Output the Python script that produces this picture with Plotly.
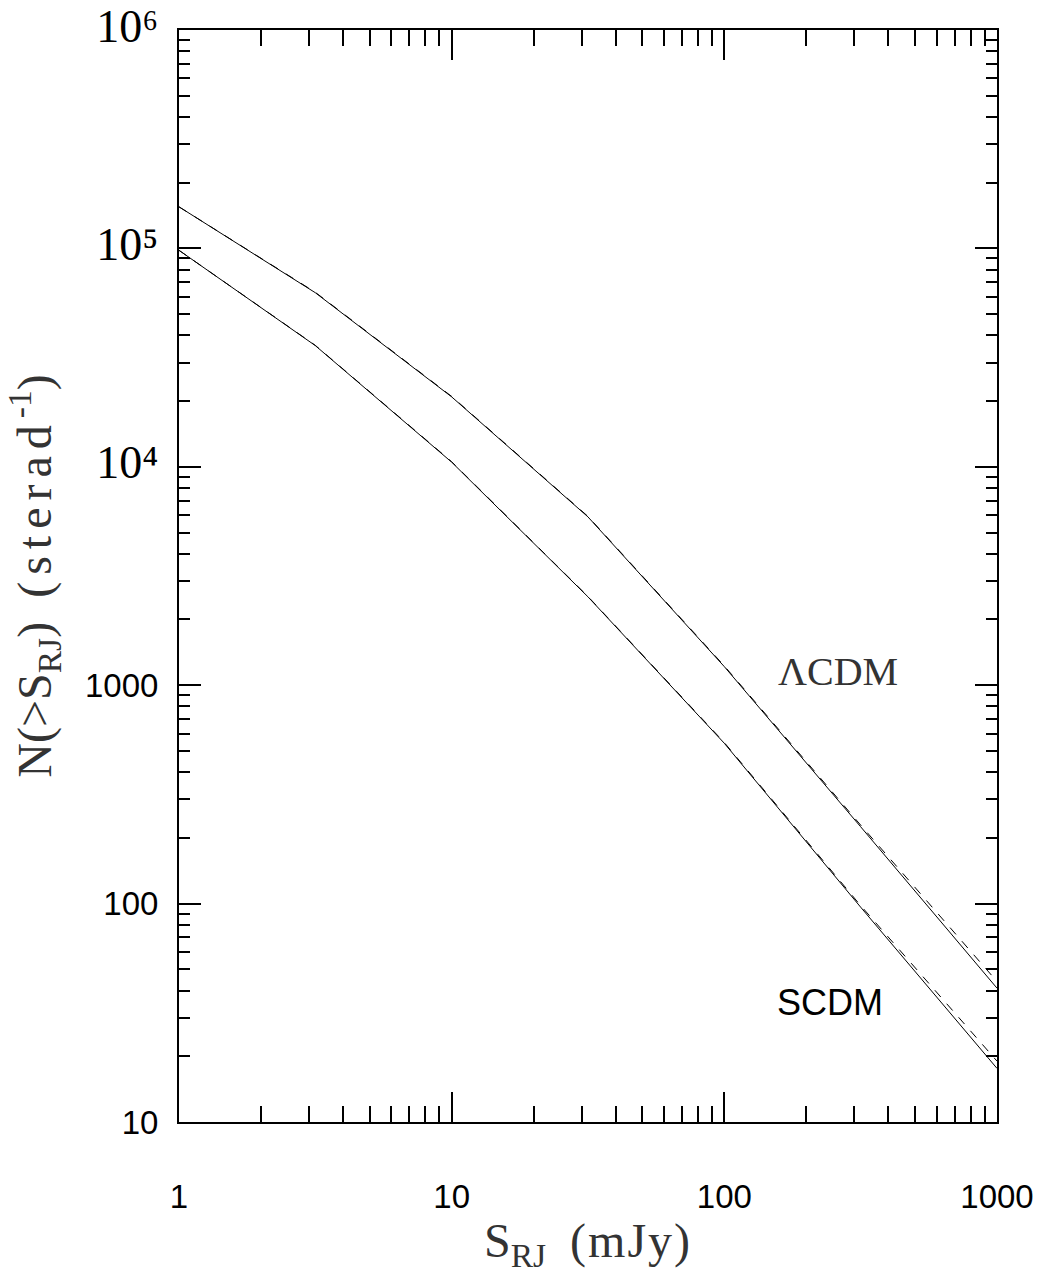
import plotly.graph_objects as go

# Data (flux in mJy, counts per steradian)
S_RJ = [1, 3.16, 10, 31.6, 100, 316, 1000]
lcdm_solid = [1.55e5, 6.27e4, 2.09e4, 5.9e3, 1216, 225, 41]
lcdm_dashed = [1.55e5, 6.3e4, 2.1e4, 5.93e3, 1225, 229, 44]
scdm_solid = [9.8e4, 3.59e4, 1.05e4, 2540, 542, 96.4, 17.6]
scdm_dashed = [9.8e4, 3.6e4, 1.055e4, 2550, 546, 98, 19]

y_tickvals = [10, 100, 1000, 1e4, 1e5, 1e6]
SERIF = "Liberation Serif"
SANS = "Liberation Sans"
SUP = {4: "⁴", 5: "⁵", 6: "⁶"}
def sci(e):
    return f"<span style='font-family:{SERIF};font-size:46px'>10{SUP[e]}</span>"
y_ticktext = ["10", "100", "1000", sci(4), sci(5), sci(6)]
x_tickvals = [1, 10, 100, 1000]
x_ticktext = ["1", "10", "100", "1000"]

minor_vals = [m * 10 ** d for d in range(0, 6) for m in range(2, 10)]

fig = go.Figure()
for y, dash in [(lcdm_solid, "solid"), (lcdm_dashed, "dash"),
                (scdm_solid, "solid"), (scdm_dashed, "dash")]:
    fig.add_trace(go.Scatter(x=S_RJ, y=y, mode="lines",
                             line=dict(color="black", width=1, dash=dash),
                             showlegend=False))

axis_common = dict(type="log", showgrid=False, zeroline=False, showline=True,
                   linecolor="black", linewidth=2, mirror="allticks",
                   ticks="inside", tickcolor="black", tickwidth=1.5,
                   ticklabeloverflow="allow")

fig.update_layout(
    width=1041, height=1274,
    margin=dict(l=179, r=44, t=30, b=152, autoexpand=False),
    paper_bgcolor="white", plot_bgcolor="white",
    xaxis=dict(**axis_common, range=[-0.00001, 3.00001], tickvals=x_tickvals, ticktext=x_ticktext,
               ticklen=30, tickfont=dict(family=SANS, size=33, color="black"),
               ticklabelstandoff=44,
               minor=dict(tickvals=[v for v in minor_vals if v < 1000], ticks="inside",
                          ticklen=16, tickcolor="black", tickwidth=1.5),
               title=dict(text="S<sub>RJ</sub>  <span style='letter-spacing:2px'>(mJy)</span>",
                          font=dict(family=SERIF, size=48, color="#333"), standoff=18)),
    yaxis=dict(**axis_common, range=[0.99999, 6.00001], tickvals=y_tickvals, ticktext=y_ticktext,
               ticklen=22, tickfont=dict(family=SANS, size=33, color="black"),
               ticklabelstandoff=12,
               minor=dict(tickvals=minor_vals, ticks="inside",
                          ticklen=11, tickcolor="black", tickwidth=1.5),
               title=dict(text="N(>S<sub>RJ</sub>)  <span style='letter-spacing:7px'>(sterad</span><sup>-1</sup>)",
                          font=dict(family=SERIF, size=48, color="#333"), standoff=18)),
    annotations=[
        dict(x=2.417, y=3.065, xref="x", yref="y", text="ΛCDM", showarrow=False,
             font=dict(family=SERIF, size=40, color="#333")),
        dict(x=2.387, y=1.549, xref="x", yref="y", text="SCDM", showarrow=False,
             font=dict(family=SANS, size=36, color="black")),
    ],
)

fig.write_html("out.html", config={"displayModeBar": False},
               post_script="document.body.style.margin='0';document.body.style.overflow='hidden';")
